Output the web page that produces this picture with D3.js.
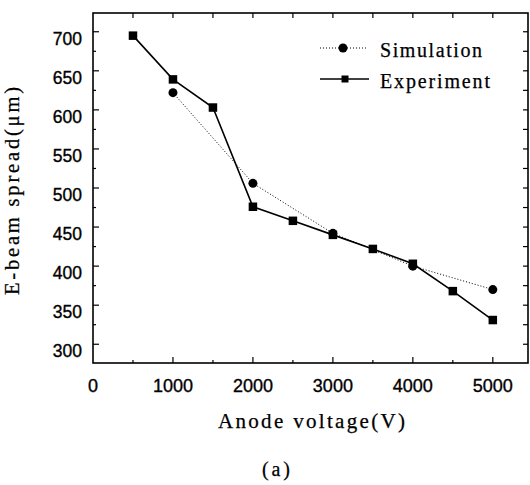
<!DOCTYPE html>
<html>
<head>
<meta charset="utf-8">
<script src="https://cdn.jsdelivr.net/npm/d3@7"></script>
<style>
  html, body { margin: 0; padding: 0; background: #fff; }
  svg { display: block; }
</style>
</head>
<body>
<svg id="chart" width="530" height="485"></svg>
<script>
// ---- data ----
const simVoltage = [1000, 2000, 3000, 4000, 5000];
const simSpread  = [622, 506, 442, 400, 370];
const expVoltage = [500, 1000, 1500, 2000, 2500, 3000, 3500, 4000, 4500, 5000];
const expSpread  = [695, 639, 603, 476, 458, 440, 422, 403, 368, 331];
const xTicks = [0, 1000, 2000, 3000, 4000, 5000];
const yTicks = [300, 350, 400, 450, 500, 550, 600, 650, 700];
const seriesNames = ["Simulation", "Experiment"];
const xTitle = "Anode voltage(V)";
const yTitle = "E-beam spread(\u03bcm)";
const caption = "(a)";

// ---- layout ----
const L = 93, R = 528, T = 13, B = 363;
const svg = d3.select("#chart");
const x = d3.scaleLinear().domain([0, 5440]).range([L, R]);
const y = d3.scaleLinear().domain([276, 724]).range([B, T]);

const sans = "'Liberation Sans', Arial, sans-serif";
const serif = "'Liberation Serif', 'Times New Roman', serif";

// frame
svg.append("rect").attr("x", L).attr("y", T).attr("width", R - L).attr("height", B - T)
  .attr("fill", "none").attr("stroke", "#000").attr("stroke-width", 1.6);

// ticks
const g = svg.append("g").attr("stroke", "#000").attr("stroke-width", 1.2);
d3.range(500, 5440, 500).forEach(v => {
  const major = v % 1000 === 0;
  g.append("line").attr("x1", x(v)).attr("x2", x(v)).attr("y1", B).attr("y2", B - (major ? 6 : 3));
  g.append("line").attr("x1", x(v)).attr("x2", x(v)).attr("y1", T).attr("y2", T + 5);
});
d3.range(300, 724, 25).forEach(v => {
  const major = v % 50 === 0;
  g.append("line").attr("x1", L).attr("x2", L + (major ? 6 : 3)).attr("y1", y(v)).attr("y2", y(v));
  g.append("line").attr("x1", R).attr("x2", R - 5).attr("y1", y(v)).attr("y2", y(v));
});

// tick labels
svg.append("g").selectAll("text").data(xTicks).join("text")
  .attr("x", d => x(d)).attr("y", 391.5).attr("text-anchor", "middle")
  .attr("font-family", sans).attr("font-size", 18)
  .attr("stroke", "#000").attr("stroke-width", 0.35).text(d => d);
svg.append("g").selectAll("text").data(yTicks).join("text")
  .attr("x", 82).attr("y", d => y(d) + 13).attr("text-anchor", "end")
  .attr("font-family", sans).attr("font-size", 17.5)
  .attr("stroke", "#000").attr("stroke-width", 0.35).text(d => d);

// titles
svg.append("text").attr("x", 218).attr("y", 428).attr("font-family", serif).attr("font-size", 21)
  .attr("stroke", "#000").attr("stroke-width", 0.25)
  .attr("textLength", 187).attr("lengthAdjust", "spacing").text(xTitle);
svg.append("text").attr("transform", "translate(19,295) rotate(-90)")
  .attr("font-family", serif).attr("font-size", 20.5)
  .attr("stroke", "#000").attr("stroke-width", 0.25)
  .attr("textLength", 208).attr("lengthAdjust", "spacing").text(yTitle);
svg.append("text").attr("x", 262).attr("y", 476).attr("font-family", serif).attr("font-size", 20)
  .attr("stroke", "#000").attr("stroke-width", 0.25)
  .attr("textLength", 28).attr("lengthAdjust", "spacing").text(caption);

// series
const simData = simVoltage.map((v, i) => [v, simSpread[i]]);
const expData = expVoltage.map((v, i) => [v, expSpread[i]]);
const line = d3.line().x(d => x(d[0])).y(d => y(d[1]));

svg.append("path").datum(simData).attr("d", line).attr("fill", "none")
  .attr("stroke", "#000").attr("stroke-width", 1).attr("stroke-dasharray", "1,2");
svg.append("path").datum(expData).attr("d", line).attr("fill", "none")
  .attr("stroke", "#000").attr("stroke-width", 1.6);

svg.append("g").selectAll("circle").data(simData).join("circle")
  .attr("cx", d => x(d[0])).attr("cy", d => y(d[1])).attr("r", 4.5).attr("fill", "#000");
const sq = 8.5;
svg.append("g").selectAll("rect").data(expData).join("rect")
  .attr("x", d => x(d[0]) - sq / 2).attr("y", d => y(d[1]) - sq / 2)
  .attr("width", sq).attr("height", sq).attr("fill", "#000");

// legend
const lg = svg.append("g");
lg.append("line").attr("x1", 320).attr("x2", 366).attr("y1", 48).attr("y2", 48)
  .attr("stroke", "#000").attr("stroke-width", 1).attr("stroke-dasharray", "1,2");
lg.append("circle").attr("cx", 343).attr("cy", 48).attr("r", 4.5).attr("fill", "#000");
lg.append("text").attr("x", 380).attr("y", 57).attr("font-family", serif).attr("font-size", 20)
  .attr("stroke", "#000").attr("stroke-width", 0.25)
  .attr("textLength", 102).attr("lengthAdjust", "spacing").text(seriesNames[0]);
lg.append("line").attr("x1", 320).attr("x2", 369).attr("y1", 79).attr("y2", 79)
  .attr("stroke", "#000").attr("stroke-width", 1.6);
lg.append("rect").attr("x", 345 - 3.5).attr("y", 79 - 3.5).attr("width", 7).attr("height", 7).attr("fill", "#000");
lg.append("text").attr("x", 380).attr("y", 88).attr("font-family", serif).attr("font-size", 20)
  .attr("stroke", "#000").attr("stroke-width", 0.25)
  .attr("textLength", 110).attr("lengthAdjust", "spacing").text(seriesNames[1]);
</script>
</body>
</html>
